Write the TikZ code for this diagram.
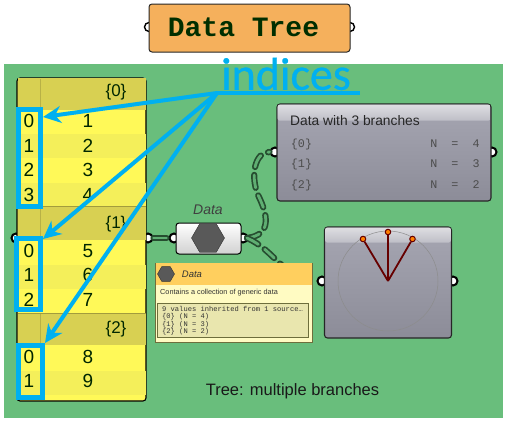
\documentclass[tikz,border=0pt]{standalone}
\usepackage{fontspec}
\setmainfont{Liberation Sans}
\setmonofont{Liberation Mono}
\newfontfamily\calloutfont[FakeBold=0.6]{Carlito}
\usetikzlibrary{arrows.meta,shapes.geometric}
\definecolor{canvasgreen}{HTML}{69BE7C}
\definecolor{wiredark}{HTML}{264D30}
\definecolor{wirelight}{HTML}{5FAE72}
\definecolor{calloutblue}{HTML}{00B0F0}
\definecolor{rowa}{HTML}{FFF958}
\definecolor{rowb}{HTML}{F4EF5A}
\definecolor{headkhaki}{HTML}{D8D052}
\definecolor{treeorange}{HTML}{F5B05C}
\definecolor{paneltop}{HTML}{A6A6B2}
\definecolor{panelbottom}{HTML}{8C8C98}
\definecolor{bandtop}{HTML}{DEDEE2}
\definecolor{bandbottom}{HTML}{BEBEC6}
\definecolor{tiporange}{HTML}{FFCF5E}
\definecolor{tipcream}{HTML}{FFFBC2}
\definecolor{tipinner}{HTML}{E9E6AE}
\definecolor{tipedge}{HTML}{6E6E3C}
\definecolor{vecred}{HTML}{660000}

\begin{document}
\begin{tikzpicture}[x=1pt,y=-1pt]
    \tikzstyle{port}=[circle, draw=black, line width=2pt, fill=white, minimum size=9pt, inner sep=0pt]
    \tikzstyle{rowbox}=[minimum width=128pt, minimum height=24.4pt, inner sep=0pt]
    \tikzstyle{headbox}=[rowbox, fill=headkhaki, minimum height=32pt]
    \tikzstyle{digit}=[inner sep=0pt, font=\fontsize{19}{19}\selectfont, text=black!85!green]
    \tikzstyle{branch}=[inner sep=0pt, font=\fontsize{17}{17}\selectfont, text=black!85!green]
    \tikzstyle{greybox}=[draw=black!85, line width=1.1pt, rounded corners=3pt, inner sep=0pt, top color=paneltop, bottom color=panelbottom]
    \tikzstyle{greyhead}=[rounded corners=2pt, inner sep=0pt, top color=bandtop, bottom color=bandbottom]
    \tikzstyle{monorow}=[inner sep=0pt, font=\fontsize{11.7}{12}\ttfamily, text=black!70]
    \tikzstyle{tipmono}=[inner sep=0pt, anchor=west, font=\fontsize{7.1}{8}\ttfamily, text=black!80]
    \tikzstyle{wire}=[draw=wiredark, line width=1.7pt, double=wirelight, double distance=2.8pt, line cap=round, dash pattern=on 13pt off 8pt]
    \tikzstyle{callout}=[draw=calloutblue, line width=4pt, -{Stealth[length=18pt, width=17pt]}]
    \tikzstyle{indexbox}=[draw=calloutblue, line width=5pt, inner sep=0pt]
    \tikzstyle{vecdot}=[circle, draw=vecred, line width=1pt, fill=orange, minimum size=5.5pt, inner sep=0pt]
    \tikzstyle{hexicon}=[regular polygon, regular polygon sides=6, draw=black!80, fill=black!65, inner sep=0pt]

    \useasboundingbox (0,0) rectangle (512,423);

    % title component
    \node[port, line width=1.4pt] (treein) at (149,27) {};
    \node[port, line width=1.4pt] (treeout) at (350,27) {};
    \node[draw=black!85, line width=1pt, fill=treeorange, rounded corners=3pt, minimum width=201pt, minimum height=48pt, inner sep=0pt] (tree) at (249.5,28) {};
    \node[inner sep=0pt, font=\fontsize{28}{28}\ttfamily\bfseries, text=green!18!black] (treetitle) at (243.5,27) {Data Tree};

    \node[fill=canvasgreen, minimum width=499pt, minimum height=354pt, inner sep=0pt] (canvas) at (253.5,241) {};

    % wires
    \coordinate (dataout) at (247,238);
    \coordinate (bend) at (258,195);
    \node[port] (panelin) at (275,152) {};
    \node[port] (panelout) at (492,152) {};
    \node[port] (vecin) at (322,281) {};
    \node[port] (vecout) at (453,281) {};
    \node[port] (yellowout) at (148,238) {};
    \node[port] (yellowin) at (16,238) {};
    \node[port] (datain) at (174,238) {};
    \node[port] (dataoutport) at (243,238) {};
    \draw[wire] (yellowout) -- (datain);
    \draw[wire] (dataout) .. controls (272,235) and (268,215) .. (bend) .. controls (250,175) and (255,152) .. (panelin);
    \draw[wire] (dataout) .. controls (275,250) and (285,281) .. (vecin);

    % yellow parameter
    \node[fill=rowa, draw=black, line width=1.1pt, rounded corners=3pt, minimum width=129pt, minimum height=323pt, inner sep=0pt] (yellow) at (81.5,239.5) {};
    \node[headbox] (head0) at (81.5,94) {};
    \node[rowbox, fill=rowb] (r01) at (81.5,146) {};
    \node[rowbox, fill=rowb] (r03) at (81.5,195) {};
    \node[headbox, minimum height=34pt] (head1) at (81.5,223) {};
    \node[rowbox, fill=rowb] (r11) at (81.5,277) {};
    \node[headbox] (head2) at (81.5,329) {};
    \node[rowbox, fill=rowb] (r21) at (81.5,383) {};
    \draw[headkhaki!85!black] (40,79) -- (40,110) (40,206) -- (40,240) (40,313) -- (40,345);
    \draw[black!25!headkhaki, line width=0.5pt] (18,206) -- (146,206) (18,313) -- (146,313);

    \node[branch] (b0) at (116,92) {\{0\}};
    \node[digit] (i00) at (29,121) {0};
    \node[digit] (v00) at (88,121) {1};
    \node[digit] (i01) at (29,146) {1};
    \node[digit] (v01) at (88,146) {2};
    \node[digit] (i02) at (29,170) {2};
    \node[digit] (v02) at (88,170) {3};
    \node[digit] (i03) at (29,195) {3};
    \node[digit] (v03) at (88,195) {4};

    \node[branch] (b1) at (116,224) {\{1\}};
    \node[digit] (i10) at (29,251) {0};
    \node[digit] (v10) at (88,251) {5};
    \node[digit] (i11) at (29,275) {1};
    \node[digit] (v11) at (88,275) {6};
    \node[digit] (i12) at (29,300) {2};
    \node[digit] (v12) at (88,300) {7};

    \node[branch] (b2) at (116,329) {\{2\}};
    \node[digit] (i20) at (29,357) {0};
    \node[digit] (v20) at (88,357) {8};
    \node[digit] (i21) at (29,381) {1};
    \node[digit] (v21) at (88,381) {9};

    % data component
    \node[inner sep=0pt, font=\itshape\fontsize{14}{14}\selectfont, text=black!75] (datalabel) at (208,210) {Data};
    \node[draw=black, line width=1pt, rounded corners=3pt, top color=white, bottom color=black!18, minimum width=65pt, minimum height=31pt, inner sep=0pt] (data) at (208.5,238.5) {};
    \node[hexicon, minimum size=33pt] (datahex) at (208,238) {};

    % tooltip
    \node[fill=tipcream, draw=tipedge, line width=0.6pt, minimum width=157pt, minimum height=79pt, inner sep=0pt] (tip) at (234,302.5) {};
    \node[fill=tiporange, minimum width=156pt, minimum height=22pt, inner sep=0pt] (tiphead) at (234,274) {};
    \node[hexicon, minimum size=17pt] (tiphex) at (166,274) {};
    \node[inner sep=0pt, font=\itshape\fontsize{9.5}{10}\selectfont, text=black!80] (tiptitle) at (192,274) {Data};
    \node[inner sep=0pt, anchor=west, font=\fontsize{7.3}{8}\selectfont, text=black!80] (tipdesc) at (160,293) {Contains a collection of generic data};
    \node[fill=tipinner, draw=tipedge, line width=1pt, minimum width=151pt, minimum height=34pt, inner sep=0pt] (tipbox) at (233,320) {};
    \node[tipmono] (tip0) at (162,309) {9 values inherited from 1 source\dots};
    \node[tipmono] (tip1) at (162,317) {\{0\} (N = 4)};
    \node[tipmono] (tip2) at (162,325) {\{1\} (N = 3)};
    \node[tipmono] (tip3) at (162,332) {\{2\} (N = 2)};

    % panel with 3 branches
    \node[greybox, minimum width=214pt, minimum height=97pt] (panel) at (384,152.5) {};
    \node[greyhead, minimum width=212.6pt, minimum height=16pt] (panelhead) at (384,112.6) {};
    \node[inner sep=0pt, anchor=west, font=\fontsize{13.8}{15}\selectfont, text=black!85] (paneltitle) at (290,121) {Data with 3 branches};
    \node[monorow] (p0) at (301.5,144) {\{0\}};
    \node[monorow] (p1) at (301.5,164) {\{1\}};
    \node[monorow] (p2) at (301.5,185) {\{2\}};
    \node[monorow] (n0) at (455,144) {N\ \ =\ \ 4};
    \node[monorow] (n1) at (455,164) {N\ \ =\ \ 3};
    \node[monorow] (n2) at (455,185) {N\ \ =\ \ 2};

    % vector display
    \node[greybox, minimum width=127pt, minimum height=111pt] (vec) at (388,282.5) {};
    \node[greyhead, minimum width=125.6pt, minimum height=15pt] (vechead) at (388,235) {};
    \begin{scope}
      \clip (326,228) rectangle (450,337);
      \draw[black!45, line width=0.5pt] (388,281) circle (50pt);
    \end{scope}
    \coordinate (origin) at (388,281);
    \node[vecdot] (tipa) at (363,239) {};
    \node[vecdot] (tipb) at (388,232) {};
    \node[vecdot] (tipc) at (412.5,239) {};
    \draw[vecred, line width=1.8pt] (origin) -- (tipa);
    \draw[vecred, line width=1.8pt] (origin) -- (tipb);
    \draw[vecred, line width=1.8pt] (origin) -- (tipc);

    \node[inner sep=0pt, font=\fontsize{16.5}{17}\selectfont, text=black!90] (caption) at (292.5,391) {Tree: multiple branches};

    % blue callouts
    \node[indexbox, minimum width=22pt, minimum height=97pt] (box0) at (29.5,158) {};
    \node[indexbox, minimum width=24pt, minimum height=71pt] (box1) at (28.5,274) {};
    \node[indexbox, minimum width=24pt, minimum height=52pt] (box2) at (30.5,371.5) {};
    \node[inner sep=0pt, font=\calloutfont\fontsize{46}{46}\selectfont, text=calloutblue] (indices) at (286,74) {indices};
    \coordinate (hub) at (217,93);
    \coordinate (hubend) at (360,93);
    \coordinate (tip0) at (43,117);
    \coordinate (tip1) at (43,239);
    \coordinate (tip2) at (45,343);
    \draw[draw=calloutblue, line width=4pt] (hub) -- (hubend);
    \draw[callout] (hub) -- (tip0);
    \draw[callout] (hub) -- (tip1);
    \draw[callout] (hub) -- (tip2);
  \end{tikzpicture}
\end{document}
